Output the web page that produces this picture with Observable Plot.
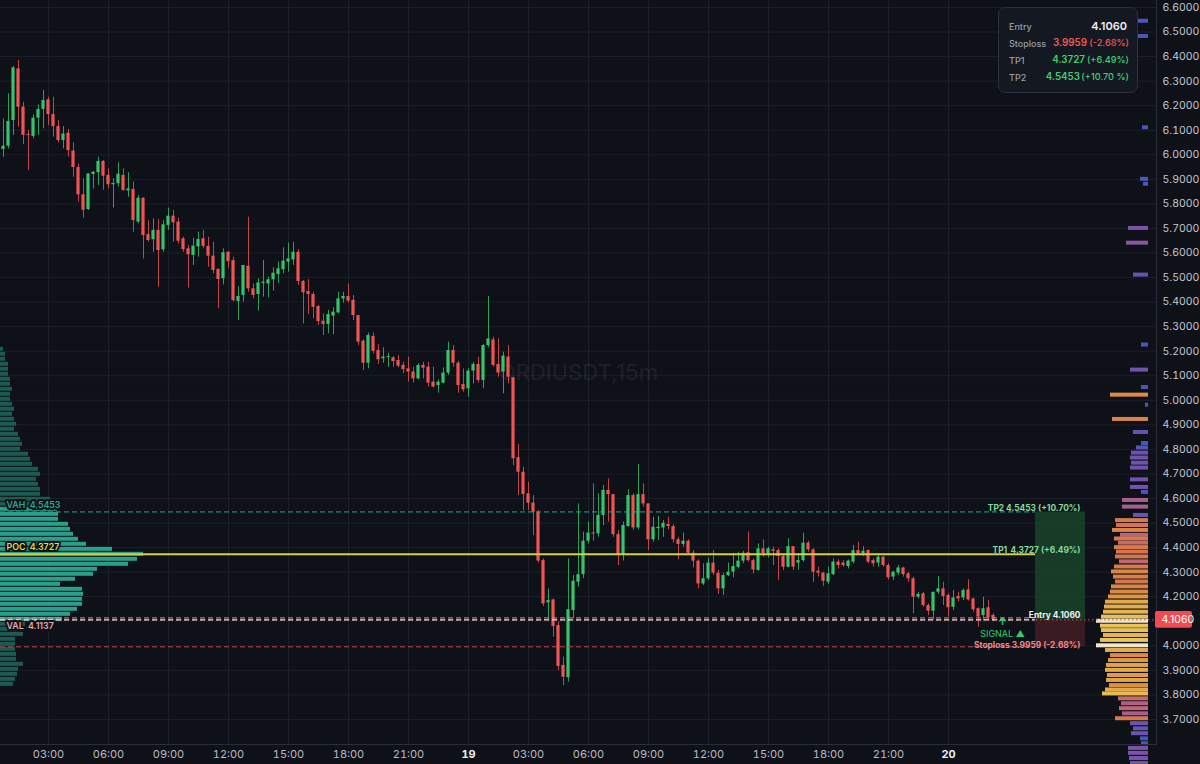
<!DOCTYPE html>
<html><head><meta charset="utf-8">
<script src="https://cdn.jsdelivr.net/npm/d3@7"></script>
<script src="https://cdn.jsdelivr.net/npm/@observablehq/plot@0.6"></script>
<style>
html,body{margin:0;padding:0;background:#0e1118;}
#wrap{position:relative;width:1200px;height:764px;overflow:hidden;background:#0e1118;font-family:Inter,"Noto Sans",sans-serif;}
#wrap svg{position:absolute;left:0;top:0;}
#panel{position:absolute;left:998px;top:7px;width:138px;height:84px;border:1px solid #2b303b;border-radius:7px;background:#141821;}
#panel span{position:absolute;line-height:1;white-space:nowrap;transform:translateY(-50%);}
.lab{left:10px;font-size:9px;color:#9a9da6;font-weight:500;}
.v{font-size:9.8px;font-weight:600;}
.pc{right:8px;font-size:9.2px;font-weight:500;}
</style></head><body>
<div id="wrap"><div id="panel"></div></div>
<script>
// ---------------- data ----------------
const symbol = "ORDIUSDT,15m";
const firstCandleHour = 0.75;   // hours after day 18, 00:00
const barHours = 0.25;          // 15 minute candles
const open = [6.022,6.035,6.140,6.350,6.194,6.083,6.075,6.149,6.185,6.224,6.164,6.115,6.058,6.088,6.015,5.948,5.837,5.777,5.920,5.927,5.973,5.916,5.878,5.882,5.916,5.853,5.859,5.726,5.823,5.675,5.654,5.692,5.613,5.712,5.750,5.726,5.658,5.617,5.590,5.625,5.658,5.627,5.587,5.533,5.495,5.603,5.569,5.402,5.427,5.546,5.454,5.431,5.476,5.474,5.491,5.512,5.532,5.563,5.572,5.603,5.484,5.443,5.431,5.382,5.322,5.309,5.343,5.356,5.413,5.423,5.407,5.345,5.241,5.151,5.260,5.203,5.169,5.175,5.173,5.162,5.142,5.128,5.115,5.087,5.142,5.135,5.074,5.060,5.070,5.111,5.203,5.151,5.064,5.047,5.119,5.146,5.081,5.223,5.246,5.146,5.115,5.176,5.091,4.766,4.707,4.619,4.581,4.544,4.347,4.175,4.187,4.083,3.920,3.870,4.144,4.259,4.290,4.426,4.459,4.456,4.531,4.633,4.616,4.453,4.368,4.486,4.612,4.480,4.616,4.578,4.432,4.477,4.480,4.494,4.486,4.432,4.413,4.426,4.377,4.345,4.252,4.273,4.337,4.296,4.232,4.286,4.300,4.320,4.345,4.379,4.347,4.307,4.395,4.375,4.391,4.388,4.364,4.320,4.404,4.337,4.347,4.418,4.391,4.304,4.296,4.259,4.290,4.341,4.337,4.323,4.341,4.388,4.375,4.388,4.347,4.337,4.361,4.327,4.280,4.296,4.317,4.293,4.273,4.198,4.212,4.164,4.141,4.218,4.232,4.205,4.157,4.201,4.195,4.228,4.191,4.151,4.123,4.155,4.124];
const high = [6.146,6.248,6.360,6.385,6.214,6.099,6.163,6.204,6.262,6.235,6.235,6.140,6.115,6.103,6.049,5.963,5.902,5.922,5.932,5.990,5.977,5.943,5.902,5.967,5.943,5.927,5.889,5.834,5.825,5.732,5.739,5.736,5.732,5.783,5.773,5.742,5.664,5.631,5.660,5.685,5.692,5.664,5.644,5.536,5.617,5.606,5.583,5.463,5.549,5.746,5.474,5.495,5.570,5.502,5.540,5.563,5.621,5.640,5.644,5.613,5.488,5.491,5.440,5.386,5.352,5.366,5.377,5.440,5.440,5.474,5.427,5.345,5.246,5.274,5.274,5.227,5.214,5.192,5.178,5.182,5.155,5.176,5.135,5.149,5.155,5.155,5.135,5.083,5.132,5.237,5.223,5.159,5.128,5.128,5.155,5.176,5.227,5.423,5.257,5.250,5.196,5.223,5.094,4.820,4.728,4.667,4.612,4.551,4.354,4.232,4.191,4.096,3.954,4.354,4.286,4.578,4.463,4.504,4.660,4.619,4.653,4.680,4.616,4.470,4.504,4.636,4.619,4.739,4.660,4.578,4.524,4.527,4.510,4.524,4.494,4.442,4.459,4.432,4.388,4.350,4.334,4.358,4.388,4.307,4.296,4.337,4.375,4.381,4.385,4.463,4.354,4.415,4.432,4.402,4.402,4.395,4.368,4.436,4.404,4.375,4.459,4.426,4.395,4.320,4.300,4.320,4.354,4.350,4.347,4.350,4.409,4.422,4.404,4.391,4.354,4.375,4.364,4.334,4.304,4.327,4.320,4.300,4.280,4.218,4.218,4.171,4.218,4.282,4.259,4.212,4.225,4.218,4.232,4.269,4.195,4.155,4.198,4.185,4.130];
const low = [5.990,6.024,6.079,6.113,6.041,5.936,6.065,6.079,6.106,6.119,6.072,6.049,6.024,5.990,5.909,5.807,5.742,5.773,5.861,5.875,5.855,5.861,5.783,5.868,5.851,5.827,5.685,5.719,5.576,5.644,5.603,5.461,5.603,5.692,5.644,5.637,5.603,5.457,5.549,5.583,5.617,5.542,5.515,5.373,5.470,5.536,5.400,5.325,5.400,5.440,5.413,5.363,5.420,5.417,5.445,5.477,5.515,5.522,5.549,5.468,5.311,5.349,5.332,5.305,5.264,5.271,5.267,5.352,5.396,5.396,5.325,5.223,5.121,5.128,5.189,5.146,5.151,5.135,5.135,5.132,5.108,5.074,5.070,5.083,5.087,5.054,5.051,5.029,5.067,5.101,5.135,5.029,5.033,5.013,5.067,5.070,5.047,5.214,5.135,5.094,5.026,5.067,4.734,4.612,4.551,4.551,4.449,4.337,4.160,4.106,4.035,3.899,3.838,3.852,4.110,4.239,4.273,4.415,4.426,4.442,4.490,4.504,4.442,4.327,4.345,4.483,4.470,4.472,4.565,4.388,4.422,4.429,4.442,4.472,4.418,4.350,4.402,4.368,4.317,4.232,4.246,4.266,4.286,4.209,4.205,4.282,4.277,4.313,4.334,4.341,4.293,4.304,4.361,4.358,4.327,4.266,4.307,4.317,4.307,4.307,4.341,4.381,4.259,4.280,4.242,4.250,4.286,4.313,4.320,4.313,4.334,4.368,4.364,4.334,4.320,4.320,4.320,4.269,4.266,4.286,4.280,4.259,4.130,4.191,4.157,4.123,4.106,4.209,4.164,4.117,4.144,4.178,4.184,4.182,4.137,4.076,4.100,4.103,4.098];
const close = [6.035,6.136,6.354,6.194,6.079,6.079,6.149,6.185,6.221,6.164,6.115,6.058,6.085,6.017,5.948,5.837,5.774,5.922,5.929,5.973,5.913,5.878,5.883,5.921,5.855,5.861,5.732,5.823,5.671,5.651,5.692,5.610,5.715,5.750,5.723,5.648,5.614,5.593,5.628,5.655,5.627,5.587,5.529,5.492,5.601,5.565,5.406,5.423,5.549,5.454,5.427,5.478,5.481,5.491,5.518,5.536,5.567,5.576,5.603,5.484,5.438,5.431,5.379,5.321,5.309,5.349,5.359,5.413,5.423,5.404,5.345,5.237,5.151,5.264,5.200,5.165,5.176,5.177,5.158,5.139,5.125,5.115,5.087,5.142,5.131,5.070,5.054,5.074,5.111,5.203,5.151,5.060,5.043,5.119,5.146,5.081,5.223,5.250,5.142,5.111,5.180,5.094,4.762,4.707,4.616,4.581,4.544,4.345,4.171,4.184,4.079,3.916,3.872,4.147,4.263,4.290,4.426,4.459,4.456,4.531,4.633,4.616,4.453,4.368,4.490,4.612,4.480,4.616,4.578,4.432,4.483,4.483,4.499,4.486,4.432,4.413,4.426,4.377,4.345,4.252,4.273,4.337,4.296,4.232,4.286,4.300,4.323,4.345,4.377,4.347,4.309,4.395,4.375,4.395,4.385,4.364,4.320,4.404,4.320,4.347,4.418,4.391,4.300,4.296,4.263,4.293,4.341,4.327,4.327,4.345,4.388,4.375,4.385,4.341,4.334,4.361,4.327,4.277,4.300,4.317,4.290,4.273,4.198,4.209,4.164,4.141,4.218,4.232,4.201,4.155,4.195,4.191,4.225,4.187,4.147,4.117,4.151,4.114,4.106];

// trade levels
const entry = 4.1060, stoploss = 3.9959, tp1 = 4.3727, tp2 = 4.5453;
const poc = 4.3727, vah = 4.5453, val = 4.1137;
const stopPct = "-2.68%", tp1Pct = "+6.49%", tp2Pct = "+10.70%", tp2PctPanel = "+10.70 %";

// left (session) volume profile: rows from top to bottom, POC row = 4.3727
const leftRowStep = 0.02037;
const leftTopRow = 41;
const leftVol = [3,5,5,8,8,8,10,10,12,10,10,12,14,12,14,16,14,18,20,22,20,28,30,32,38,40,36,38,40,40,50,55,57,58,58,68,70,73,78,86,112,143,137,128,97,93,75,60,82,83,82,82,77,70,62,25,22,23,15,15,15,16,16,23,18,17,15,13];

// right (visible range) volume profile
const rightPrice = [6.544,6.482,6.110,5.900,5.880,5.700,5.640,5.510,5.225,5.123,5.052,5.021,4.980,4.922,4.869,4.824,4.806,4.785,4.765,4.744,4.724,4.676,4.645,4.625,4.592,4.565,4.531,4.510,4.490,4.470,4.450,4.435,4.418,4.400,4.382,4.362,4.342,4.321,4.301,4.280,4.260,4.240,4.219,4.199,4.178,4.158,4.137,4.117,4.100,4.080,4.062,4.042,4.022,4.000,3.981,3.960,3.940,3.920,3.900,3.879,3.859,3.838,3.820,3.804,3.784,3.764,3.744,3.723,3.703,3.683,3.662,3.642,3.621,3.601,3.582,3.562,3.541,3.521];
const rightVol = [10,10,6,8,5,20,22,15,7,18,7,38,3,36,15,7,12,17,18,17,18,18,18,7,26,26,15,33,32,36,28,34,30,34,32,33,29,34,37,35,33,37,38,40,43,44,45,47,52,48,47,45,48,52,43,38,40,42,43,41,42,39,43,46,30,27,29,26,33,18,15,17,8,7,20,20,19,18];

// axes
const yTicks = [3.7,3.8,3.9,4.0,4.1,4.2,4.3,4.4,4.5,4.6,4.7,4.8,4.9,5.0,5.1,5.2,5.3,5.4,5.5,5.6,5.7,5.8,5.9,6.0,6.1,6.2,6.3,6.4,6.5,6.6];
const xTickHours = [3,6,9,12,15,18,21,24,27,30,33,36,39,42,45,48];
const xTickLabels = ["03:00","06:00","09:00","12:00","15:00","18:00","21:00","19","03:00","06:00","09:00","12:00","15:00","18:00","21:00","20"];
const dayTicks = [24,48];

// ---------------- layout / style ----------------
const W = 1200, H = 764, axisW = 44, axisH = 20;
const xDomain = [0.6, 58.4];
const yDomain = [3.598, 6.6285];
const hoursPerPx = (xDomain[1]-xDomain[0])/(W-axisW);
const green = "#35c46c", red = "#ef5455", bg = "#0e1118";
const grid = "#1b1f29";

const candles = open.map((o,i)=>{
  const c = close[i];
  let top = Math.max(o,c), bot = Math.min(o,c);
  if (top-bot < 0.004) { const m=(top+bot)/2; top=m+0.002; bot=m-0.002; }
  return {t: firstCandleHour + i*barHours, o, h: high[i], l: low[i], c, top, bot, col: c>=o?green:red};
});
const lastT = candles[candles.length-1].t;
const lastClose = close[close.length-1];
const lineEnd = lastT + 42*hoursPerPx;      // end of level lines
const boxEnd = lastT + 92*hoursPerPx;       // end of trade boxes
const bodyHalf = 1.6*hoursPerPx;

const leftRows = leftVol.map((v,i)=>({p: poc + (leftTopRow - i)*leftRowStep, v}));
const leftMaxPx = 143, rightMaxPx = 52;
const leftK = leftMaxPx*hoursPerPx/d3.max(leftVol);
const rightK = rightMaxPx*hoursPerPx/d3.max(rightVol);
const rightEdge = xDomain[1] - 8*hoursPerPx;
const rowH = leftRowStep*0.40;
const heat = d3.scaleLinear().domain([3,12,20,27,32,38,43,48,52])
  .range(["#4058c0","#5256b6","#7a52a8","#b0608a","#d5744f","#dc8a44","#e2aa4a","#e8c45c","#efe6cc"]).clamp(true);
const rightRows = rightPrice.map((p,i)=>({p, v: rightVol[i], col: heat(rightVol[i])}));
const inVA = p => p >= val - leftRowStep*0.6 && p <= vah + leftRowStep*0.6;

const levelLines = [
  {y: vah, stroke: "#26a58c", dash: "5,3", w: 1},
  {y: stoploss, stroke: "#c0454f", dash: "5,3", w: 1},
  {y: val, stroke: "#d98a94", dash: "5,3", w: 1},
  {y: entry, stroke: "#eadfe0", dash: "5,3", w: 1.3},
  {y: poc, stroke: "#d2d23e", dash: null, w: 2}
];
const leftLabelsAbove = [
  {y: vah, text: `VAH  ${vah.toFixed(4)}`, fill: "#2aa88f"},
  {y: poc, text: `POC  ${poc.toFixed(4)}`, fill: "#dcdc4a"}
];
const leftLabelsBelow = [
  {y: val, text: `VAL  ${val.toFixed(4)}`, fill: "#e3a9b0"}
];
const rightLabels = [
  {y: tp2, text: `TP2\u00a0${tp2.toFixed(4)} (${tp2Pct})`, fill: "#86d99a"},
  {y: tp1, text: `TP1\u00a0\u2009${tp1.toFixed(4)} (${tp1Pct})`, fill: "#86d99a"},
  {y: entry, text: `Entry ${entry.toFixed(4)}`, fill: "#f0f0f0"}
];
const stopLabel = [{y: stoploss, text: `Stoploss ${stoploss.toFixed(4)} (${stopPct})`, fill: "#ee8a8f"}];
const labelOf = new Map(xTickHours.map((h,i)=>[h, xTickLabels[i]]));
const yLabelTicks = yTicks.filter(t => Math.abs(t - lastClose) > 0.035);

const leftLabelStyle = {x: xDomain[0], y: "y", text: "text", fill: "fill", dx: 6, textAnchor: "start",
  fontSize: 8.8, fontWeight: 600, stroke: bg, strokeWidth: 4, paintOrder: "stroke"};
const rightLabelStyle = {x: boxEnd, y: "y", text: "text", fill: "fill", dx: -5, textAnchor: "end", fontSize: 8.4, fontWeight: 700};

const chart = Plot.plot({
  width: W, height: H, marginLeft: 0, marginRight: axisW, marginTop: 0, marginBottom: axisH,
  style: {background: "transparent", fontFamily: "Inter, 'Noto Sans', sans-serif", overflow: "visible"},
  x: {domain: xDomain, axis: null},
  y: {domain: yDomain, axis: null},
  marks: [
    Plot.gridY(yTicks, {stroke: grid, strokeOpacity: 1}),
    Plot.gridX(xTickHours, {stroke: grid, strokeOpacity: 1}),
    Plot.text([symbol], {frameAnchor: "middle", fontSize: 22, fill: "#ffffff", fillOpacity: 0.07, fontWeight: 500}),
    // left profile
    Plot.rect(leftRows, {x1: xDomain[0], x2: d => xDomain[0] + d.v*leftK, y1: d => d.p - rowH, y2: d => d.p + rowH,
      fill: d => inVA(d.p) ? "#28a08b" : "#1d5a52"}),
    // right profile
    Plot.rect(rightRows, {x1: d => rightEdge - d.v*rightK, x2: rightEdge, y1: d => d.p - rowH, y2: d => d.p + rowH, fill: "col"}),
    // trade boxes
    Plot.rect([{y1: entry, y2: tp2}], {x1: lineEnd, x2: boxEnd, y1: "y1", y2: "y2", fill: "#1a4a2c", fillOpacity: 0.75}),
    Plot.rect([{y1: stoploss, y2: entry}], {x1: lineEnd, x2: boxEnd, y1: "y1", y2: "y2", fill: "#4a1f25", fillOpacity: 0.75}),
    // current price line
    Plot.ruleY([lastClose], {stroke: "#e5484d", strokeDasharray: "1.5,2.5", strokeWidth: 1}),
    // candles
    Plot.ruleX(candles, {x: "t", y1: "l", y2: "h", stroke: "col", strokeWidth: 1, strokeOpacity: 0.8}),
    Plot.rect(candles, {x1: d => d.t - bodyHalf, x2: d => d.t + bodyHalf, y1: "bot", y2: "top", fill: "col"}),
    // level lines
    ...levelLines.map(l => Plot.ruleY([l.y], {x1: xDomain[0], x2: lineEnd, stroke: l.stroke, strokeWidth: l.w, strokeDasharray: l.dash})),
    // left labels
    Plot.text(leftLabelsAbove, {...leftLabelStyle, dy: -7}),
    Plot.text(leftLabelsBelow, {...leftLabelStyle, dy: 8}),
    // right labels
    Plot.text(rightLabels, {...rightLabelStyle, dy: -4}),
    Plot.text(stopLabel, {...rightLabelStyle, dy: -2}),
    Plot.text([entry], {x: lastT + 9*hoursPerPx, y: d => d, text: () => "↑", fill: "#2fcf6e", fontSize: 10, fontWeight: 700, dy: 2}),
    Plot.text([entry], {x: lastT + 9*hoursPerPx, y: d => d, text: () => "SIGNAL ▲", fill: "#2fcf6e", fontSize: 9, dy: 14}),
    // axes
    Plot.frame({anchor: "bottom", stroke: "#2a2e39"}),
    Plot.frame({anchor: "right", stroke: "#2a2e39"}),
    Plot.axisY(yLabelTicks, {anchor: "right", tickSize: 0, tickPadding: 6, tickFormat: d => d.toFixed(4), fill: "#c4c7cf", fontSize: 10.5, label: null}),
    Plot.axisX(xTickHours.filter(h => !dayTicks.includes(h)), {anchor: "bottom", tickSize: 0, tickPadding: 6, tickFormat: d => labelOf.get(d), fill: "#b9bcc4", fontSize: 11, label: null}),
    Plot.axisX(dayTicks, {anchor: "bottom", tickSize: 0, tickPadding: 6, tickFormat: d => labelOf.get(d), fill: "#eceef2", fontSize: 11, fontWeight: 700, label: null}),
    // price tag
    Plot.rect([lastClose], {x1: xDomain[1] - hoursPerPx, x2: xDomain[1] + 36*hoursPerPx, y1: d => d - 0.034, y2: d => d + 0.034, fill: "#ef4b50", rx: 2}),
    Plot.text([lastClose], {x: xDomain[1], y: d => d, text: d => d.toFixed(4), dx: 5, textAnchor: "start", fill: "#ffffff", fontSize: 10.5})
  ]
});
const wrap = document.getElementById("wrap");
wrap.insertBefore(chart, wrap.firstChild);

// info panel (row centres from the panel's top, value right edges from the panel's right side)
const panel = document.getElementById("panel");
const rows = [
  {label: "Entry", value: entry.toFixed(4), pct: null, color: "#eef0f4", top: 18, vRight: 10},
  {label: "Stoploss", value: stoploss.toFixed(4), pct: `(${stopPct})`, color: "#ef5a5c", top: 35, vRight: 50},
  {label: "TP1", value: tp1.toFixed(4), pct: `(${tp1Pct})`, color: "#3fd072", top: 52, vRight: 52},
  {label: "TP2", value: tp2.toFixed(4), pct: `(${tp2PctPanel})`, color: "#3fd072", top: 69, vRight: 57}
];
for (const r of rows) {
  panel.insertAdjacentHTML("beforeend",
    `<span class="lab" style="top:${r.top}px">${r.label}</span>` +
    `<span class="v" style="top:${r.top}px;right:${r.vRight}px;color:${r.color};${r.pct?"":"font-size:11px"}">${r.value}</span>` +
    (r.pct ? `<span class="pc" style="top:${r.top}px;color:${r.color}">${r.pct}</span>` : ""));
}
</script>
</body></html>
